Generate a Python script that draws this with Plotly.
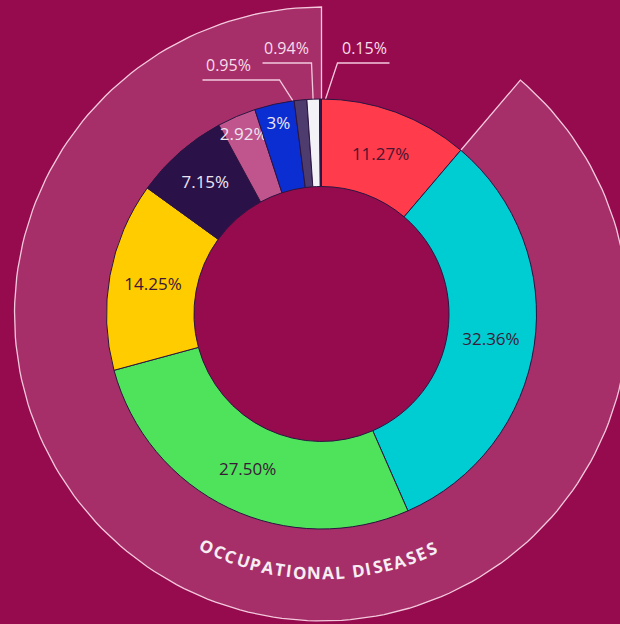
import math
import plotly.graph_objects as go

# ---------------- data ----------------
segments = ["S1", "S2", "S3", "S4", "S5", "S6", "S7", "S8", "S9", "S10"]
values = [11.27, 32.36, 27.50, 14.25, 7.15, 2.92, 3.0, 0.95, 0.94, 0.15]
pct_text = ["11.27%", "32.36%", "27.50%", "14.25%", "7.15%", "2.92%", "3%", "0.95%", "0.94%", "0.15%"]
colors = ["#FF3B4C", "#00CDD2", "#4FE35B", "#FFCC00", "#2A1249", "#C0558D",
          "#0A2ED2", "#4E3C6E", "#F2F2F7", "#2B1A4C"]
text_colors = ["#4A1530", "#3A1838", "#3A1838", "#3A1838", "#EDE6F2", "#EDE6F2",
               "#EDE6F2", "#EDE6F2", "#3A1838", "#EDE6F2"]
outside_idx = [7, 8, 9]            # slices labelled outside with leader lines
group_title = "OCCUPATIONAL DISEASES"
group_members = [1, 2, 3, 4, 5, 6, 7, 8, 9]

# ---------------- layout constants ----------------
W, H = 620, 624
CX, CY = 321.5, 314.0          # pixel centre of the donut
R_OUT, R_IN = 215.0, 127.5     # donut radii (px)
RING_OUT = 307.0               # outer group ring radius
BG = "#960B4E"
RING_FILL = "#A62F69"
LINE_C = "#F4C9DE"

total = sum(values)
cum = [0]
for v in values:
    cum.append(cum[-1] + v)
ang = [c / total * 360.0 for c in cum]   # clockwise from 12 o'clock


def pt(r, deg):
    a = math.radians(deg)
    return r * math.sin(a), r * math.cos(a)


fig = go.Figure()

# ----- outer group ring (cartesian, 1 unit = 1 px, centre at 0,0) -----
a0 = ang[group_members[0]]
a1 = ang[group_members[-1] + 1]
n = 200
outer = [pt(RING_OUT, a0 + (a1 - a0) * k / n) for k in range(n + 1)]
inner = [pt(R_OUT, a1 - (a1 - a0) * k / n) for k in range(n + 1)]
poly = outer + inner + [outer[0]]
fig.add_trace(go.Scatter(x=[p[0] for p in poly], y=[p[1] for p in poly],
                         mode="lines", fill="toself", fillcolor=RING_FILL,
                         line=dict(width=0), hoverinfo="skip", showlegend=False))
edge = [pt(R_OUT, a0)] + outer + [pt(R_OUT, a1)]
fig.add_trace(go.Scatter(x=[p[0] for p in edge], y=[p[1] for p in edge],
                         mode="lines", line=dict(color=LINE_C, width=1.3),
                         hoverinfo="skip", showlegend=False))

# ----- leader lines for the tiny slices -----
label_pos = {7: (-93, 249, -119, -42, 234),   # text x, text y, line x0, elbow x, line y
             8: (-35, 266, -59, -10, 251),
             9: (43, 266, 16, 68, 251)}
for i in outside_idx:
    mid = (ang[i] + ang[i + 1]) / 2
    ex, ey = pt(200, mid)
    tx, ty, lx0, elx, ly = label_pos[i]
    fig.add_trace(go.Scatter(x=[lx0, elx, ex] if i != 9 else [elx, lx0, ex],
                             y=[ly, ly, ey], mode="lines",
                             line=dict(color=LINE_C, width=1.3),
                             hoverinfo="skip", showlegend=False))
    fig.add_annotation(x=tx, y=ty, text=pct_text[i], showarrow=False,
                       font=dict(family="Open Sans", size=16, color="#F8DCEA"))

# ----- curved group title -----
r_txt = 259.0
fs = 17
spacing = 1.0
widths = {"O": 11.2, "C": 9.4, "U": 10.6, "P": 9.2, "A": 10.2, "T": 8.6, "I": 4.6,
          "N": 11.2, "L": 7.8, "D": 10.8, "S": 8.2, "E": 8.2, " ": 4.0}
scale = fs / 14.0
adv = [widths.get(ch, 9.0) * scale for ch in group_title]
centers = []
s = 0.0
for w in adv:
    centers.append(s + w / 2)
    s += w + spacing
length = s - spacing
shift_deg = -0.8
for ch, c in zip(group_title, centers):
    if ch == " ":
        continue
    phi = (c - length / 2) / r_txt + math.radians(shift_deg)
    x = r_txt * math.sin(phi)
    y = -r_txt * math.cos(phi)
    fig.add_annotation(x=x, y=y, text="<b>" + ch + "</b>", showarrow=False,
                       textangle=-math.degrees(phi),
                       font=dict(family="Open Sans", size=fs, color="#F6EEF3"))

# ----- main donut -----
dx0 = (CX - R_OUT) / W
dx1 = (CX + R_OUT) / W
dy0 = (H - CY - R_OUT) / H
dy1 = (H - CY + R_OUT) / H
fig.add_trace(go.Pie(
    labels=segments, values=values, sort=False, direction="clockwise", rotation=0,
    hole=R_IN / R_OUT,
    text=[("" if i in outside_idx else t) for i, t in enumerate(pct_text)],
    textinfo="text", textposition="inside", insidetextorientation="horizontal",
    insidetextfont=dict(family="Open Sans", size=17, color=text_colors),
    marker=dict(colors=colors, line=dict(color="#2A1542", width=1)),
    domain=dict(x=[dx0, dx1], y=[dy0, dy1]),
    showlegend=False, hoverinfo="label+value"))

fig.update_layout(
    width=W, height=H, margin=dict(l=0, r=0, t=0, b=0),
    paper_bgcolor=BG, plot_bgcolor=BG,
    uniformtext=dict(minsize=17, mode="show"),
    xaxis=dict(range=[-CX, W - CX], visible=False, fixedrange=True),
    yaxis=dict(range=[CY - H, CY], visible=False, fixedrange=True),
    showlegend=False,
)

fig.write_html("out.html", config={"displayModeBar": False},
               post_script="document.body.style.margin='0';document.body.style.background='" + BG + "';")
